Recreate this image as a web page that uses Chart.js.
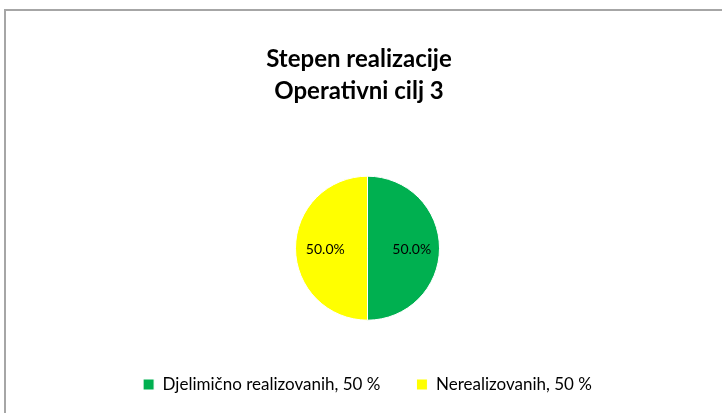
<!DOCTYPE html>
<html>
<head>
<meta charset="utf-8">
<script src="https://cdn.jsdelivr.net/npm/chart.js@4/dist/chart.umd.min.js"></script>
<style>
    html, body { margin: 0; padding: 0; background: #fff; overflow: hidden; }
    #wrap { position: relative; width: 722px; height: 413px; }
    #frame {
        position: absolute; left: 4px; top: 9px; width: 760px; height: 460px;
        border: 2px solid #a6a6a6; box-sizing: border-box; pointer-events: none;
    }
    canvas { position: absolute; left: 0; top: 0; }
</style>
</head>
<body>
<div id="wrap">
    <div id="frame"></div>
    <canvas id="chart" width="722" height="413"></canvas>
</div>
<script>
const titleLines = ['Stepen realizacije', 'Operativni cilj 3'];
const categories = ['Djelimično realizovanih, 50 %', 'Nerealizovanih, 50 %'];
const values = [50, 50];
const colors = ['#00B050', '#FFFF00'];

// procenti unutar kriški
const sliceLabels = {
    id: 'sliceLabels',
    afterDatasetsDraw(chart) {
        const ctx = chart.ctx;
        const meta = chart.getDatasetMeta(0);
        const total = values.reduce((a, b) => a + b, 0);
        ctx.save();
        ctx.font = '14px Lato';
        ctx.fillStyle = '#000';
        ctx.textAlign = 'center';
        ctx.textBaseline = 'middle';
        meta.data.forEach((arc, i) => {
            const p = arc.getProps(['x', 'y', 'startAngle', 'endAngle', 'outerRadius']);
            const mid = (p.startAngle + p.endAngle) / 2;
            const r = p.outerRadius * 0.6;
            const txt = (values[i] / total * 100).toFixed(1) + '%';
            ctx.fillText(txt, p.x + Math.cos(mid) * r + 1, p.y + Math.sin(mid) * r + 1);
        });
        ctx.restore();
    }
};

new Chart(document.getElementById('chart'), {
    type: 'pie',
    data: {
        labels: categories,
        datasets: [{
            data: values,
            backgroundColor: colors,
            borderColor: '#fff',
            borderWidth: 1,
            radius: 72
        }]
    },
    options: {
        responsive: false,
        animation: false,
        layout: { padding: { left: 0, right: 4, top: 0, bottom: 10 } },
        plugins: {
            title: {
                display: true,
                text: titleLines,
                color: '#000',
                font: { family: 'Lato', size: 24, weight: 'bold', lineHeight: 1.3 },
                padding: { top: 44, bottom: 50 }
            },
            // prazna kutija lijevo da se pita pomjeri udesno
            subtitle: {
                display: true,
                position: 'left',
                text: '',
                font: { size: 1, lineHeight: 1 },
                padding: { top: 16, bottom: 0 }
            },
            legend: {
                position: 'bottom',
                fullSize: false,
                labels: {
                    color: '#000',
                    font: { family: 'Lato', size: 17 },
                    boxWidth: 11,
                    boxHeight: 11,
                    padding: 36
                }
            },
            tooltip: { enabled: false }
        }
    },
    plugins: [sliceLabels]
});
</script>
</body>
</html>
